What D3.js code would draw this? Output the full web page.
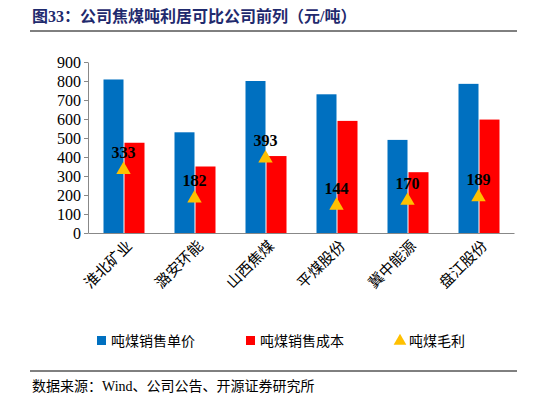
<!DOCTYPE html><html><head><meta charset="utf-8"><script src="https://cdn.jsdelivr.net/npm/d3@7"></script>
<style>body{margin:0;background:#fff}</style></head><body><svg id="c" width="546" height="405"></svg>
<script>
const categories=["淮北矿业","潞安环能","山西焦煤","平煤股份","冀中能源","盘江股份"];
const price=[808,530,800,730,490,785];
const cost=[475,350,405,590,320,597];
const margin=[333,182,393,144,170,189];
const yTicks=[0,100,200,300,400,500,600,700,800,900];
const svg=d3.select("#c");
const serif="'Times New Roman','Liberation Serif',serif", cjk="'Noto Sans CJK SC',sans-serif";
svg.append("text").attr("x",32).attr("y",22).attr("fill","#1f2a6e").attr("font-family",serif+","+cjk).attr("font-weight","bold").attr("font-size",16).text("图33：公司焦煤吨利居可比公司前列（元/吨）");
svg.append("line").attr("x1",30).attr("x2",517).attr("y1",31).attr("y2",31).attr("stroke","#000").attr("stroke-width",1);
const x=d3.scaleBand().domain(categories).range([88,514]);
const y=d3.scaleLinear().domain([0,900]).range([233,62]);
const ya=svg.append("g").attr("transform","translate(88,0)").call(d3.axisLeft(y).tickValues(yTicks).tickSize(4).tickSizeOuter(0));
ya.selectAll("text").attr("font-family",serif).attr("font-size",16).attr("fill","#000");
ya.select(".domain").attr("stroke","#888");ya.selectAll(".tick line").attr("stroke","#888");
const xa=svg.append("g").attr("transform","translate(0,233)").call(d3.axisBottom(x).tickSize(0).tickSizeOuter(0));
xa.select(".domain").attr("stroke","#888");
xa.selectAll("text").attr("font-family",cjk).attr("font-size",15).attr("fill","#000")
  .attr("transform","rotate(-45)").attr("text-anchor","end").attr("dx","-0.2em").attr("dy","0.9em");
const bw=20;
svg.selectAll(".b").data(categories).join("rect").attr("x",d=>x(d)+x.bandwidth()/2-bw).attr("width",bw)
 .attr("y",(d,i)=>y(price[i])).attr("height",(d,i)=>233-y(price[i])).attr("fill","#0070c0");
svg.selectAll(".r").data(categories).join("rect").attr("x",d=>x(d)+x.bandwidth()/2+1).attr("width",bw)
 .attr("y",(d,i)=>y(cost[i])).attr("height",(d,i)=>233-y(cost[i])).attr("fill","#ff0000");
const tri=d3.symbol().type(d3.symbolTriangle).size(90);
svg.selectAll(".t").data(categories).join("path").attr("d",tri)
 .attr("transform",(d,i)=>`translate(${x(d)+x.bandwidth()/2},${y(margin[i])})`).attr("fill","#ffc000");
svg.selectAll(".l").data(categories).join("text").attr("x",d=>x(d)+x.bandwidth()/2).attr("y",(d,i)=>y(margin[i])-12)
 .attr("text-anchor","middle").attr("font-family",serif).attr("font-weight","bold").attr("font-size",16).text((d,i)=>margin[i]);
const leg=[["吨煤销售单价","#0070c0","rect"],["吨煤销售成本","#ff0000","rect"],["吨煤毛利","#ffc000","tri"]];
const lx=[97,246,395];
leg.forEach((l,i)=>{
 if(l[2]=="rect") svg.append("rect").attr("x",lx[i]).attr("y",336).attr("width",9).attr("height",9).attr("fill",l[1]);
 else svg.append("path").attr("d",d3.symbol().type(d3.symbolTriangle).size(70)).attr("transform",`translate(${lx[i]+5},341)`).attr("fill",l[1]);
 svg.append("text").attr("x",lx[i]+14).attr("y",346).attr("font-family",cjk).attr("font-size",14).text(l[0]);
});
svg.append("line").attr("x1",30).attr("x2",517).attr("y1",371).attr("y2",371).attr("stroke","#000");
svg.append("text").attr("x",32).attr("y",391).attr("font-family",serif+","+cjk).attr("font-size",14).text("数据来源：Wind、公司公告、开源证券研究所");
</script></body></html>
